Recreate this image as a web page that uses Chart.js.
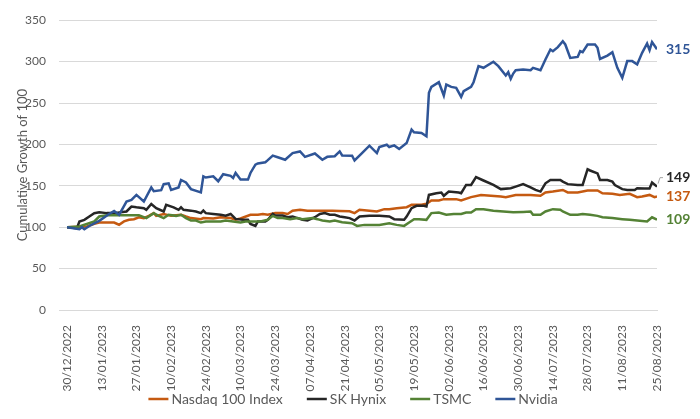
<!DOCTYPE html>
<html>
<head>
<meta charset="utf-8">
<script src="https://cdn.jsdelivr.net/npm/chart.js@4"></script>
<style>
  html, body { margin: 0; padding: 0; background: #fff; }
  #wrap { width: 700px; height: 419px; }
</style>
</head>
<body>
<div id="wrap"><canvas id="chart"></canvas></div>
<script>
// days counted from 30/12/2022
const START = Date.UTC(2022, 11, 30);
const LAST_DAY = 238;

const nasdaqDays = [0, 8, 11, 13, 17, 19, 21, 23, 25, 27, 29, 31, 33, 35, 36, 39, 42, 46, 48, 50, 54, 55, 59, 62, 66, 68, 70, 74, 77, 79, 81, 84, 87, 89, 91, 94, 97, 100, 103, 107, 110, 114, 116, 118, 122, 125, 128, 130, 133, 137, 139, 143, 145, 147, 150, 152, 157, 159, 163, 167, 171, 175, 177, 181, 187, 191, 193, 196, 200, 202, 206, 210, 214, 216, 220, 223, 227, 230, 232, 235, 237, 238];
const nasdaqVals = [100, 100.8, 104, 105.6, 105.6, 105.6, 103, 107, 109, 109.7, 112, 111, 113.7, 117, 113.7, 116, 113.7, 115, 112.9, 111, 109.7, 111, 110.5, 112, 111, 109, 110.5, 115, 115, 116, 115, 117, 117, 116, 120, 121, 120, 120, 120, 120, 119.7, 119.3, 117, 121, 120, 119, 121.8, 121.8, 123, 124.2, 127, 127, 128.2, 132.2, 132.2, 133.9, 133.9, 132.2, 136.3, 139, 138, 137, 136.3, 139, 139, 138, 142, 143, 145, 142, 142, 144.3, 144.3, 141, 140.3, 139, 140.3, 136.3, 137, 139, 136.3, 137];

const hynixDays = [0, 4, 5, 7, 9, 11, 13, 16, 19, 24, 26, 28, 31, 32, 34, 36, 39, 40, 43, 45, 46, 47, 50, 52, 54, 55, 56, 59, 62, 64, 66, 67, 68, 71, 73, 74, 76, 77, 80, 81, 83, 84, 87, 89, 91, 93, 95, 97, 100, 102, 104, 106, 108, 110, 112, 114, 116, 118, 122, 126, 130, 132, 136, 137, 139, 141, 144, 145, 146, 149, 151, 152, 154, 158, 159, 161, 163, 165, 168, 172, 175, 179, 181, 184, 187, 189, 191, 193, 195, 199, 200, 202, 206, 208, 210, 211, 214, 215, 218, 220, 221, 224, 226, 229, 230, 233, 235, 236, 238];
const hynixVals = [100, 98.8, 106.9, 108.9, 112.9, 116.9, 118, 117, 117, 119, 125, 124, 123, 121, 128, 123, 119, 127, 124, 121, 124, 121, 120, 119, 117, 120, 117, 116, 115, 114, 116, 113, 110, 109, 109, 104, 101.6, 107, 107, 109, 116, 114, 114, 112, 113, 111, 109, 108, 112, 116, 117, 115, 115, 113, 112, 111, 108, 112.9, 113.7, 113.7, 112.9, 109.7, 108.9, 112.9, 123, 125.8, 125.8, 125, 139, 141, 141.9, 137.9, 143, 141.9, 141, 151, 151, 160.5, 156.4, 151.2, 146, 147, 149, 152, 148, 145, 143, 153, 157, 157, 155, 152, 151, 151, 170, 168.5, 165, 157, 157, 155, 151, 146, 145, 145, 147, 146.7, 146.7, 154, 149];

const tsmcDays = [0, 5, 11, 13, 16, 19, 24, 29, 32, 35, 37, 39, 41, 44, 46, 48, 50, 52, 54, 56, 59, 62, 64, 67, 70, 72, 75, 78, 81, 83, 85, 87, 90, 93, 95, 99, 101, 103, 106, 108, 111, 115, 117, 120, 124, 126, 130, 133, 136, 138, 140, 142, 145, 147, 150, 153, 156, 159, 161, 163, 165, 168, 172, 176, 180, 184, 187, 188, 191, 193, 196, 199, 200, 203, 206, 208, 211, 214, 216, 220, 224, 227, 230, 234, 236, 238];
const tsmcVals = [100, 100.8, 106.9, 112.9, 114.5, 114.5, 114.5, 114.5, 111, 117, 113.7, 111, 115, 113.7, 115, 111, 108, 108, 105.6, 106.9, 106.9, 106.9, 108, 106.9, 105.6, 106.9, 106.9, 106.9, 108.9, 113.7, 111, 111, 109.7, 111, 109.7, 111, 109.7, 108, 106.9, 108, 106, 104.8, 101.6, 102.8, 102.8, 102.8, 104.8, 102.8, 101.6, 105.6, 109.7, 109.7, 108.9, 117, 117.7, 115, 116, 116, 117.7, 117.7, 121.8, 121.8, 120, 119, 118, 118.5, 119, 115, 115, 119, 121.8, 121, 119, 115, 115, 116, 115, 113.7, 112, 111, 109.7, 108.9, 108, 106.9, 112, 109];

const nvidiaDays = [0, 5, 6, 7, 9, 13, 17, 19, 21, 24, 26, 28, 31, 34, 35, 38, 39, 41, 42, 45, 46, 48, 50, 54, 55, 56, 59, 61, 63, 66, 67, 68, 70, 73, 74, 76, 77, 80, 81, 83, 85, 88, 91, 94, 96, 100, 103, 105, 108, 110, 111, 115, 116, 119, 122, 125, 126, 129, 130, 132, 134, 137, 139, 140, 143, 145, 146, 147, 150, 152, 153, 155, 157, 159, 160, 163, 164, 166, 168, 172, 174, 177, 178, 179, 180, 181, 184, 187, 188, 191, 193, 195, 196, 198, 200, 201, 203, 206, 207, 208, 210, 213, 214, 215, 218, 220, 222, 224, 226, 228, 230, 232, 234, 235, 236, 238];
const nvidiaVals = [100, 97.6, 100, 97.6, 101.5, 107.7, 116, 119.5, 115, 131, 133, 139, 131, 148, 143.5, 144.7, 152, 153, 145, 148, 157, 154, 146, 142, 161.5, 160, 161.5, 155.5, 164, 162, 159.5, 165.5, 157.5, 157.5, 165.5, 175.5, 177, 178.5, 181, 186.5, 184.5, 181.5, 189.5, 191.5, 185, 189, 181.5, 185, 185.7, 191.5, 186.7, 186.3, 180.6, 189.5, 198.4, 189.5, 196.8, 199.6, 196.8, 198.8, 194.4, 201.6, 217.8, 214.6, 213.8, 209.8, 262.2, 269.5, 275.1, 259, 272.3, 269.5, 268.3, 257.4, 264.3, 269.5, 275.1, 294.5, 292.5, 299.8, 294.5, 283.2, 287.2, 279.2, 285.6, 289.6, 290.4, 289.6, 292.5, 289.6, 302.5, 314.6, 312.6, 317.5, 324.7, 320.7, 304.5, 305.7, 312.6, 311.4, 320.7, 320.7, 316.7, 303.3, 307.3, 311.4, 292.5, 280.4, 300.6, 300.6, 296.6, 310.6, 321.9, 313.8, 323.5, 315];

const seriesNames = ['Nasdaq 100 Index', 'SK Hynix', 'TSMC', 'Nvidia'];
const seriesColors = ['#C55A11', '#262626', '#548235', '#2F5597'];
const endLabels = ['137', '149', '109', '315'];
const endLabelShift = [0, -9, 0, 0];
const yTitle = 'Cumulative Growth of 100';

const FONT = 'Lato, "Open Sans", sans-serif';
const GREY = '#595959';

const toPoints = (days, vals) => days.map((d, i) => ({ x: d, y: vals[i] }));
const fmtDate = d => {
  const dt = new Date(START + d * 86400000);
  const dd = String(dt.getUTCDate()).padStart(2, '0');
  const mm = String(dt.getUTCMonth() + 1).padStart(2, '0');
  return dd + '/' + mm + '/' + dt.getUTCFullYear();
};

const allSeries = [
  toPoints(nasdaqDays, nasdaqVals),
  toPoints(hynixDays, hynixVals),
  toPoints(tsmcDays, tsmcVals),
  toPoints(nvidiaDays, nvidiaVals),
];

// value labels at the right end of each line, rotated y title, Excel-like legend row
const extrasPlugin = {
  id: 'extras',
  afterDatasetsDraw(chart) {
    const { ctx, chartArea } = chart;
    const ys = chart.scales.y;
    ctx.save();
    ctx.font = 'bold 14px ' + FONT;
    ctx.textBaseline = 'middle';
    allSeries.forEach((pts, i) => {
      const last = pts[pts.length - 1];
      const py = ys.getPixelForValue(last.y);
      const ty = py + endLabelShift[i];
      const tx = chartArea.right + 9;
      if (endLabelShift[i] !== 0) {
        ctx.strokeStyle = '#A6A6A6';
        ctx.lineWidth = 1;
        ctx.beginPath();
        ctx.moveTo(chartArea.right + 1, py - 3);
        ctx.lineTo(chartArea.right + 3, ty);
        ctx.lineTo(chartArea.right + 6, ty);
        ctx.stroke();
      }
      ctx.fillStyle = seriesColors[i];
      ctx.fillText(endLabels[i], tx, ty);
    });

    // legend
    ctx.font = '14px ' + FONT;
    const lineW = 20, gap = 3, spacing = 24, ly = 399;
    const widths = seriesNames.map(n => lineW + gap + ctx.measureText(n).width);
    const total = widths.reduce((a, b) => a + b, 0) + spacing * (widths.length - 1);
    let lx = 353 - total / 2;
    seriesNames.forEach((n, i) => {
      ctx.strokeStyle = seriesColors[i];
      ctx.lineWidth = 2.5;
      ctx.beginPath();
      ctx.moveTo(lx, ly);
      ctx.lineTo(lx + lineW, ly);
      ctx.stroke();
      ctx.fillStyle = GREY;
      ctx.textAlign = 'left';
      ctx.fillText(n, lx + lineW + gap, ly);
      lx += widths[i] + spacing;
    });

    // y axis title
    ctx.translate(27, (chartArea.top + chartArea.bottom) / 2);
    ctx.rotate(-Math.PI / 2);
    ctx.font = '13px ' + FONT;
    ctx.fillStyle = GREY;
    ctx.textAlign = 'center';
    ctx.textBaseline = 'alphabetic';
    ctx.fillText(yTitle, 0, 0);
    ctx.restore();
  }
};

const order = [3, 2, 1, 0];

new Chart(document.getElementById('chart'), {
  type: 'line',
  data: {
    datasets: allSeries.map((pts, i) => ({
      label: seriesNames[i],
      data: pts,
      borderColor: seriesColors[i],
      backgroundColor: seriesColors[i],
      borderWidth: 2.5,
      pointRadius: 0,
      tension: 0,
      order: order[i],
    })),
  },
  options: {
    responsive: true, maintainAspectRatio: false, animation: false,
    layout: { padding: { left: 14, right: 43, top: 20, bottom: 27 } },
    plugins: {
      tooltip: { enabled: false },
      legend: { display: false },
    },
    scales: {
      x: {
        type: 'linear', min: 0, max: LAST_DAY,
        afterBuildTicks(axis) {
          const t = [];
          for (let d = 0; d <= LAST_DAY; d += 14) t.push({ value: d });
          axis.ticks = t;
        },
        afterFit(axis) { axis.height = 82; },
        ticks: {
          autoSkip: false, maxRotation: 90, minRotation: 90, padding: 7,
          color: GREY, font: { family: FONT, size: 12 },
          callback: v => fmtDate(v),
        },
        grid: { display: false },
        border: { display: true, color: '#D9D9D9', width: 1 },
      },
      y: {
        min: 0, max: 350,
        afterFit(axis) { axis.width = 53; },
        ticks: { stepSize: 50, color: GREY, font: { family: FONT, size: 12 }, padding: 13 },
        grid: { color: '#D9D9D9', lineWidth: 1 },
        border: { display: false },
      },
    },
  },
  plugins: [extrasPlugin],
});
</script>
</body>
</html>
